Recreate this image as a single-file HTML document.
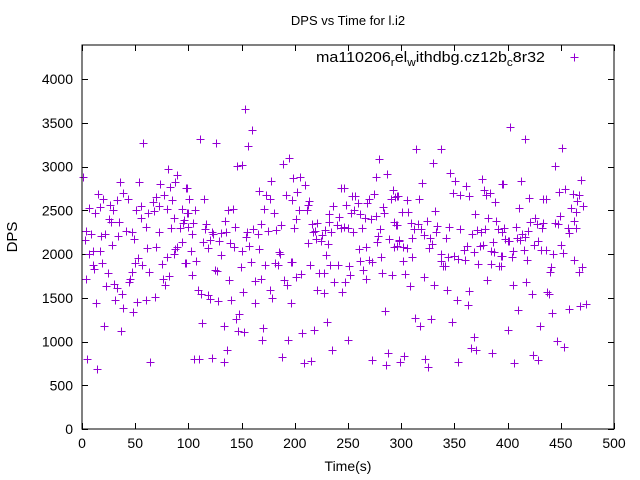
<!DOCTYPE html>
<html><head><meta charset="utf-8"><style>
html,body{margin:0;padding:0;background:#fff;}
svg{display:block;font-family:"Liberation Sans",sans-serif;}
</style></head><body>
<svg id="chart" width="640" height="480" viewBox="0 0 640 480" xmlns="http://www.w3.org/2000/svg">
<rect width="640" height="480" fill="#fff"/>
<text x="348" y="25" font-size="13" text-anchor="middle">DPS vs Time for l.i2</text>
<text x="348" y="471" font-size="14" text-anchor="middle">Time(s)</text>
<text transform="translate(17,237) rotate(-90)" font-size="15" text-anchor="middle">DPS</text>
<g id="ticks"></g>
<g id="pts"></g>
<rect x="82" y="45" width="532" height="384" fill="none" stroke="#000" stroke-width="1"/>
<g>
<text x="316" y="62" font-size="15" textLength="229" lengthAdjust="spacingAndGlyphs">ma110206<tspan font-size="11" dy="4">r</tspan><tspan dy="-4">el</tspan><tspan font-size="11" dy="4">w</tspan><tspan dy="-4">ithdbg.cz12b</tspan><tspan font-size="11" dy="4">c</tspan><tspan dy="-4">8r32</tspan></text>
<path d="M570.5,57.5h8M574.5,53.5v8" stroke="#9400d3" stroke-width="1"/>
</g>
</svg>
<script>
const xTicks = [0,50,100,150,200,250,300,350,400,450,500];
const yTicks = [0,500,1000,1500,2000,2500,3000,3500,4000];
const times = [57,1,81,89,36,54,73,87,83,98,15,39,20,33,43,70,77,85,7,12,17,26,29,51,55,62,67,68,72,80,94,99,55,25,27,35,86,96,95,4,8,41,47,60,72,84,92,100,3,18,22,34,49,28,94,61,70,89,87,7,10,17,53,86,80,10,11,19,50,56,75,97,24,47,63,4,45,44,76,82,23,30,33,78,38,13,31,52,60,69,39,48,21,37,5,14,64,
153,160,111,126,156,146,150,195,189,198,99,178,166,173,177,192,197,101,115,100,106,137,142,171,180,104,117,134,168,187,100,116,144,161,122,131,135,155,165,175,182,199,103,123,154,120,129,114,139,143,157,118,166,102,150,185,186,131,98,107,159,172,149,181,184,196,125,127,103,138,163,168,190,193,109,112,118,120,128,140,151,177,179,163,196,148,145,113,133,147,152,170,169,194,136,105,110,122,133,188,
279,198,205,287,276,210,243,246,202,254,257,274,197,213,259,270,268,290,296,292,236,248,283,212,204,211,256,253,232,261,242,266,276,284,201,272,216,221,232,293,296,199,219,228,234,240,246,250,243,255,263,280,217,226,278,220,225,231,212,277,289,298,260,267,293,229,281,197,214,233,241,251,261,270,273,264,201,206,223,227,252,282,291,237,247,267,221,227,244,196,285,230,207,218,250,235,288,209,215,273,286,
314,337,330,346,376,320,351,361,378,383,395,349,355,364,380,294,297,305,317,388,301,306,332,369,382,389,324,309,316,295,334,345,312,319,355,371,379,391,333,375,367,321,310,327,342,298,329,296,302,305,326,362,374,377,386,359,384,387,368,337,310,344,350,394,353,360,302,337,372,384,339,341,392,304,321,381,308,331,343,364,352,363,313,328,318,348,368,366,370,385,303,299,322,325,353,
402,416,451,445,469,396,413,420,448,454,461,467,465,471,433,436,411,460,464,449,426,421,428,433,432,408,397,419,445,447,462,464,457,458,395,414,416,409,412,398,400,401,429,425,450,405,415,431,436,443,452,395,404,418,462,394,441,440,470,467,405,417,423,437,439,410,442,458,468,474,400,430,446,453,424,429,406];
const dps = [3269,2880,2972,2903,2823,2823,2800,2823,2766,2755,2686,2697,2629,2617,2629,2652,2675,2617,2526,2469,2537,2560,2503,2503,2549,2469,2595,2492,2549,2515,2515,2469,2412,2400,2366,2366,2412,2389,2355,2263,2229,2263,2252,2309,2252,2297,2297,2309,2160,2206,2229,2206,2172,2103,2137,2069,2080,2080,2057,2000,2034,2034,1955,2000,1966,1875,1829,1897,1897,1875,1886,1897,1783,1794,1794,1715,1715,1680,1715,1749,1634,1657,1612,1646,1543,1440,1474,1452,1474,1509,1383,1337,1177,1120,800,686,766,
3658,3418,3315,3269,3235,3006,3018,3097,3029,2869,2755,2835,2720,2675,2629,2675,2617,2629,2629,2469,2503,2503,2515,2515,2469,2355,2343,2377,2343,2332,2309,2286,2309,2286,2252,2240,2252,2252,2229,2263,2275,2297,2229,2229,2195,2160,2149,2137,2126,2080,2092,2069,2057,2034,2034,2023,2000,1989,1897,1920,1909,1875,1852,1897,1875,1909,1817,1806,1760,1703,1692,1715,1703,1646,1589,1543,1532,1486,1463,1474,1566,1589,1497,1440,1440,1314,1257,1212,1177,1120,1109,1154,1017,1017,903,800,800,811,766,823,
3086,2869,2880,2915,2880,2789,2755,2755,2709,2663,2663,2686,2617,2606,2583,2629,2583,2629,2663,2732,2549,2560,2537,2560,2503,2503,2503,2469,2457,2457,2423,2412,2435,2469,2400,2400,2343,2355,2366,2366,2332,2297,2263,2275,2252,2332,2309,2297,2297,2252,2297,2286,2252,2217,2206,2172,2149,2115,2126,2137,2172,2149,2057,2080,2080,1989,1966,1909,1875,1875,1875,1863,1920,1932,1909,1817,1737,1772,1783,1783,1760,1783,1760,1680,1680,1715,1589,1554,1566,1440,1349,1223,1097,1132,1017,903,869,754,777,789,731,
3200,3200,3040,2926,2858,2812,2835,2778,2732,2697,2800,2697,2675,2663,2675,2652,2663,2617,2629,2595,2480,2480,2492,2457,2412,2377,2377,2355,2343,2332,2320,2309,2286,2286,2286,2275,2286,2286,2252,2252,2229,2217,2183,2183,2183,2160,2115,2092,2080,2069,2069,2092,2092,2103,2137,2046,2034,2023,2023,2000,1966,1966,1977,1977,1943,1932,1920,1920,1886,1886,1863,1863,1863,1772,1737,1703,1634,1646,1589,1577,1474,1417,1269,1257,1177,1223,1052,926,903,869,834,766,800,709,766,
3452,3315,3212,3006,2846,2800,2835,2640,2709,2743,2686,2675,2606,2549,2629,2629,2526,2526,2480,2435,2412,2366,2343,2355,2297,2309,2297,2263,2355,2343,2377,2297,2297,2240,2252,2229,2195,2183,2160,2172,2149,2149,2149,2103,2103,2034,2046,2046,2046,2000,2012,1977,1966,1932,1932,1863,1852,1794,1852,1794,1646,1680,1543,1566,1543,1360,1326,1372,1406,1429,1132,1177,1006,937,846,789,754];

const X0 = 82, X1 = 614, Y0 = 429, YPX = 350/4000;
function xs(v){ return X0 + v*(X1-X0)/500; }
function ys(v){ return Y0 - v*YPX; }
const NS = "http://www.w3.org/2000/svg";
const tg = document.getElementById('ticks');
xTicks.forEach(function(t){
  const x = Math.round(xs(t))+0.5;
  const p = document.createElementNS(NS,'path');
  p.setAttribute('d','M'+x+','+Y0+'v-6M'+x+',45v6');
  p.setAttribute('stroke','#000');
  
  
  tg.appendChild(p);
  const tx = document.createElementNS(NS,'text');
  tx.setAttribute('x',xs(t)); tx.setAttribute('y',448);
  tx.setAttribute('font-size','14'); tx.setAttribute('text-anchor','middle');
  tx.textContent = t;
  
  
  tg.appendChild(tx);
});
yTicks.forEach(function(t){
  const y = Math.round(ys(t))+0.5;
  const p = document.createElementNS(NS,'path');
  p.setAttribute('d','M'+X0+','+y+'h6M'+X1+','+y+'h-6');
  p.setAttribute('stroke','#000');
  
  
  tg.appendChild(p);
  const tx = document.createElementNS(NS,'text');
  tx.setAttribute('x',73); tx.setAttribute('y',ys(t)+5);
  tx.setAttribute('font-size','14'); tx.setAttribute('text-anchor','end');
  tx.textContent = t;
  
  
  tg.appendChild(tx);
});
const pg = document.getElementById('pts');
let d = '';
for (let i=0;i<times.length;i++){
  const x = Math.round(xs(times[i]))+0.5, y = Math.round(ys(dps[i]))+0.5;
  d += 'M'+(x-4)+','+y+'h8M'+x+','+(y-4)+'v8';
}
const pp = document.createElementNS(NS,'path');
pp.setAttribute('d',d);
pp.setAttribute('stroke','#9400d3');
pp.setAttribute('stroke-width','1');
pp.setAttribute('fill','none');


pg.appendChild(pp);
</script>
</body></html>
